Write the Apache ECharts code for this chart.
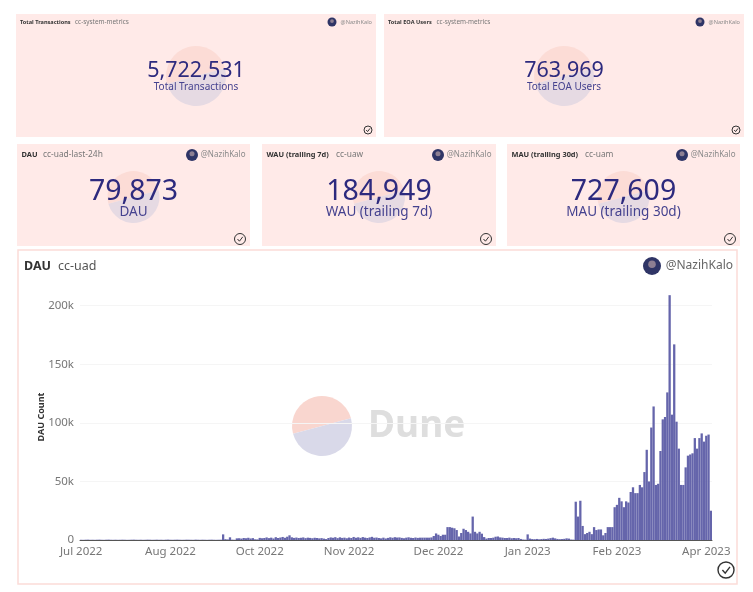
<!DOCTYPE html>
<html lang="en">
<head>
    <meta charset="UTF-8">
    <title>DAU dashboard</title>
    <script src="https://cdn.jsdelivr.net/npm/echarts@6/dist/echarts.min.js"></script>
    <style>
        html, body { margin: 0; padding: 0; background: #fff; }
        #main { width: 753px; height: 592px; }
    </style>
</head>
<body>
<div id="main"></div>
<script type="text/javascript">
    // daily active users
    var dauValues = [
        200,150,250,300,180,220,160,240,300,200,150,260,320,210,180,240,170,200,280,230,150,190,260,310,220,180,240,160,210,300,
        250,170,200,280,190,230,150,260,340,210,180,240,300,220,160,190,280,250,200,170,310,230,180,260,210,150,240,290,200,170,220,260,
        4800,700,500,2300,300,200,
        1400,1500,1200,1700,1500,1900,1300,1600,600,500,1800,1500,1700,2200,1600,2000,1300,2400,1700,2100,2600,1900,2800,4000,
        2300,1800,2100,1700,1900,2200,1600,2000,1800,1500,1900,1700,1400,1600,1200,800,1700,2200,1900,2400,1600,2300,1800,2000,1500,2100,1700,2600,1900,2300,1800,2500,2000,1700,2200,2700,1900,2100,
        1700,1400,2000,1300,1800,2300,1900,2400,2100,2200,1800,1500,2000,2300,1900,1700,2100,1800,2000,
        2000,2000,2000,2000,2200,3400,5600,4500,3400,4500,4500,11000,11000,10500,10000,8500,3000,6000,9600,8500,7000,5600,20000,
        7000,5600,7000,5400,2500,1200,1700,1700,2000,2800,3000,2200,2000,1700,1700,2000,1500,1700,1500,1700,
        900,400,300,4800,1200,800,700,900,600,800,1000,900,1200,1600,2000,1400,900,700,800,1000,1400,1200,400,300,
        32700,20000,33500,12000,5000,6000,7000,5000,11000,8500,9000,9000,4000,6000,11000,11000,11000,
        28000,30000,36000,33000,28000,33000,32000,41000,45000,40000,40000,47000,45000,
        58000,77000,50000,96000,114000,47000,48000,76000,103000,105000,126000,209000,
        107000,167000,101000,78000,47000,47000,62000,72000,73000,74000,87000,78000,87000,91000,84000,89000,90000,25000
    ];
    var tickLabels = ['Jul 2022','Aug 2022','Oct 2022','Nov 2022','Dec 2022','Jan 2023','Feb 2023','Apr 2023'];
    var tickStep = 39;

    var kpiTitles = ['Total Transactions','Total EOA Users','DAU','WAU (trailing 7d)','MAU (trailing 30d)'];
    var kpiQueries = ['cc-system-metrics','cc-system-metrics','cc-uad-last-24h','cc-uaw','cc-uam'];
    var kpiNumbers = ['5,722,531','763,969','79,873','184,949','727,609'];
    var kpiLabels = ['Total Transactions','Total EOA Users','DAU','WAU (trailing 7d)','MAU (trailing 30d)'];
    var author = '@NazihKalo';

    var FONT = '"Noto Sans", sans-serif';
    var NAVY = '#2d2a7e';
    var elements = [];

    function logo(cx, cy, r, top, bottom) {
        var tilt = 15 * Math.PI / 180;
        elements.push({ type: 'sector', silent: true, shape: { cx: cx, cy: cy, r: r, startAngle: Math.PI - tilt, endAngle: 2 * Math.PI - tilt }, style: { fill: top } });
        elements.push({ type: 'sector', silent: true, shape: { cx: cx, cy: cy, r: r, startAngle: -tilt, endAngle: Math.PI - tilt }, style: { fill: bottom } });
    }

    function label(x, y, text, size, color, weight, align) {
        elements.push({ type: 'text', silent: true, x: x, y: y, style: {
            text: text, fontSize: size, fill: color, fontWeight: weight || 'normal',
            fontFamily: FONT, align: align || 'left', verticalAlign: 'middle'
        } });
    }

    function avatar(cx, cy, r) {
        elements.push({ type: 'circle', silent: true, shape: { cx: cx, cy: cy, r: r }, style: { fill: '#2f3566' } });
        elements.push({ type: 'circle', silent: true, shape: { cx: cx, cy: cy - r * 0.2, r: r * 0.42 }, style: { fill: '#8d7f92' } });
    }

    function check(cx, cy, r, lw) {
        elements.push({ type: 'circle', silent: true, shape: { cx: cx, cy: cy, r: r }, style: { fill: 'none', stroke: '#333', lineWidth: lw } });
        elements.push({ type: 'polyline', silent: true, shape: { points: [[cx - r * 0.45, cy], [cx - r * 0.1, cy + r * 0.4], [cx + r * 0.5, cy - r * 0.4]] }, style: { fill: 'none', stroke: '#333', lineWidth: lw } });
    }

    // layout of the five number cards
    function card(i, box, s) {
        elements.push({ type: 'rect', silent: true, shape: { x: box[0], y: box[1], width: box[2], height: box[3] }, style: { fill: '#ffeae8' } });
        var cx = box[0] + box[2] / 2;
        logo(cx, s.logoY, s.logoR, '#fcdcd6', '#e6dae3');
        label(box[0] + s.pad, box[1] + s.headY, kpiTitles[i], s.titleSize, '#333', 'bold');
        label(box[0] + s.pad + s.queryX, box[1] + s.headY, kpiQueries[i], s.head, '#777');
        label(box[0] + box[2] - s.pad, box[1] + s.headY, author, s.author, '#8a8a8a', 'normal', 'right');
        avatar(box[0] + box[2] - s.avatarX, box[1] + s.headY, s.avatarR);
        label(cx, s.numY, kpiNumbers[i], s.num, NAVY, 'normal', 'center');
        label(cx, s.subY, kpiLabels[i], s.sub, '#45428f', 'normal', 'center');
        check(box[0] + box[2] - s.checkX, box[1] + box[3] - s.checkY, s.checkR, 1);
    }

    var bigCard = { pad: 4, headY: 8, titleSize: 5.6, head: 6.4, author: 5.6, queryX: 55, avatarX: 44, avatarR: 4.5, logoY: 76, logoR: 30,
        num: 21.5, numY: 71, sub: 10, subY: 87, checkX: 8, checkY: 7, checkR: 4 };
    card(0, [16, 14, 360, 123], bigCard);
    bigCard.queryX = 48.5;
    card(1, [384, 14, 360, 123], bigCard);

    var smallCard = { pad: 4.5, headY: 11, titleSize: 7.4, head: 8.4, author: 8, queryX: 21.5, avatarX: 58, avatarR: 6, logoY: 197, logoR: 26,
        num: 28.5, numY: 192, sub: 13.5, subY: 212, checkX: 10, checkY: 7, checkR: 5.5 };
    card(2, [17, 144, 233, 102], smallCard);
    smallCard.queryX = 69.5;
    card(3, [262, 144, 234, 102], smallCard);
    smallCard.queryX = 73.5;
    card(4, [507, 144, 233, 102], smallCard);

    // bottom panel
    elements.push({ type: 'rect', silent: true, shape: { x: 18, y: 250, width: 719, height: 334 }, style: { fill: '#fff', stroke: '#fbdcd8', lineWidth: 1.5 } });
    label(24, 266, 'DAU', 12.5, '#333', 'bold');
    label(58, 266, 'cc-uad', 12.5, '#555');
    avatar(652, 266, 9);
    label(733, 266, author, 12, '#666', 'normal', 'right');
    logo(322, 426, 30, '#f9d6cf', '#d9d9e9');
    label(368, 426, 'Dune', 37, '#dedede', 'bold');
    check(726, 570, 8, 1.4);

    var clipLabel = { type: 'rect', silent: true, z: 100, shape: { x: 731, y: 544, width: 5, height: 16 }, style: { fill: '#fff' } };
    elements.push(clipLabel);

    var myChart = echarts.init(document.getElementById('main'));
    var option = {
        animation: false,
        backgroundColor: '#fff',
        graphic: { elements: elements },
        grid: { left: 80, right: 41, top: 294, bottom: 52 },
        xAxis: {
            type: 'category',
            data: dauValues.map(function (v, i) { return i % tickStep === 0 ? tickLabels[i / tickStep] : ''; }),
            axisTick: { show: false },
            axisLine: { lineStyle: { color: '#555', width: 1 } },
            axisLabel: { interval: tickStep - 1, color: '#777', fontSize: 11.5, fontFamily: FONT, margin: 6, hideOverlap: false }
        },
        yAxis: {
            type: 'value',
            min: 0,
            max: 210000,
            interval: 50000,
            name: 'DAU Count',
            nameLocation: 'middle',
            nameGap: 34,
            nameMoveOverlap: false,
            nameTextStyle: { color: '#333', fontWeight: 'bold', fontSize: 9, fontFamily: FONT },
            axisLabel: {
                showMaxLabel: false,
                color: '#777', fontSize: 11.5, fontFamily: FONT, margin: 6,
                formatter: function (v) { return v === 0 ? '0' : (v / 1000) + 'k'; }
            },
            splitLine: { showMaxLine: false, lineStyle: { color: '#f5f5f5' } }
        },
        series: [{
            name: 'DAU',
            type: 'bar',
            data: dauValues,
            barCategoryGap: 0,
            itemStyle: { color: '#6565ab' }
        }]
    };
    myChart.setOption(option);
</script>
</body>
</html>
